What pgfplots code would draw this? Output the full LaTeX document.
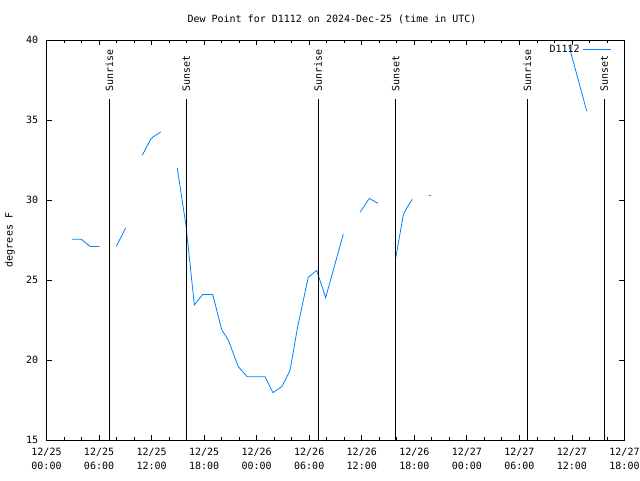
\documentclass[border=0pt]{standalone}
\usepackage{fontspec}
\setmainfont{DejaVu Sans Mono}
\setmonofont{DejaVu Sans Mono}
\usepackage{pgfplots}
\pgfplotsset{compat=1.18}
\definecolor{dp}{RGB}{0,128,255}
\begin{document}
\fontsize{7.5}{10.5}\selectfont
\begin{tikzpicture}[x=1pt,y=1pt]
\useasboundingbox (0,0) rectangle (480,360);
\begin{axis}[
  at={(34.875pt,30pt)}, anchor=south west,
  scale only axis, width=433.5pt, height=300pt,
  xmin=0, xmax=66, ymin=15, ymax=40,
  xtick={0,6,...,66}, minor x tick num=2,
  xticklabels={{12/25\\00:00},{12/25\\06:00},{12/25\\12:00},{12/25\\18:00},
               {12/26\\00:00},{12/26\\06:00},{12/26\\12:00},{12/26\\18:00},
               {12/27\\00:00},{12/27\\06:00},{12/27\\12:00},{12/27\\18:00}},
  xticklabel style={align=center, inner sep=0pt, yshift=-5.5pt, font=\fontsize{7.5}{10.5}\selectfont},
  ytick={15,20,25,30,35,40},
  yticklabels={15,20,25,30,35,40},
  yticklabel style={anchor=east, inner sep=0pt, xshift=-6pt, font=\fontsize{7.5}{10.5}\selectfont},
  major tick length=3.75pt, minor tick length=2.25pt,
  tick style={black, line width=0.6pt},
  axis line style={black, line width=0.6pt},
  title={Dew Point for D1112 on 2024-Dec-25 (time in UTC)},
  title style={at={(0.5,1)}, anchor=center, yshift=9.75pt, xshift=-2.6pt, inner sep=0pt, font=\fontsize{7.5}{10.5}\selectfont},
  ylabel={degrees F},
  ylabel style={at={(0,0.5)}, anchor=center, yshift=27.4pt, inner sep=0pt, font=\fontsize{7.5}{10.5}\selectfont},
  legend style={at={(0.9785,0.995)}, anchor=north east, draw=none, fill=none, inner sep=0pt, font=\fontsize{7.5}{10.5}\selectfont},
  legend plot pos=right,
  legend image code/.code={\draw[#1] (4pt,0pt) -- (25.5pt,0pt);},
]
% main series segments
\addplot[dp, line width=0.6pt] coordinates {(2.91,27.55) (3.97,27.55) (4.97,27.1) (6.03,27.1)};
\addlegendentry{D1112}
\addplot[dp, line width=0.6pt, forget plot] coordinates {(7.97,27.1) (9.04,28.25)};
\addplot[dp, line width=0.6pt, forget plot] coordinates {(10.94,32.8) (11.9,33.8) (12.19,33.95) (13.04,34.25)};
\addplot[dp, line width=0.6pt, forget plot] coordinates {
 (14.93,32.0) (15.93,28.4) (16.88,23.44) (17.84,24.1) (18.98,24.1) (20.0,21.9)
 (20.76,21.25) (21.9,19.58) (22.93,18.95) (24.95,18.95) (25.86,17.96) (26.86,18.33)
 (27.8,19.33) (28.68,22.08) (29.89,25.17) (30.85,25.6) (31.88,23.9) (33.89,27.86)};
\addplot[dp, line width=0.6pt, forget plot] coordinates {(35.8,29.23) (36.86,30.1) (37.82,29.8)};
\addplot[dp, line width=0.6pt, forget plot] coordinates {(39.87,26.35) (40.74,29.06) (41.13,29.5) (41.77,30.04)};
\addplot[dp, line width=0.6pt, forget plot] coordinates {(43.72,30.3) (43.86,30.3)};
\addplot[dp, line width=0.6pt, forget plot] coordinates {(59.66,39.64) (61.68,35.56)};
% sunrise / sunset markers
\addplot[black, line width=0.8pt, forget plot] coordinates {(7.17,15) (7.17,36.3)};
\addplot[black, line width=0.8pt, forget plot] coordinates {(15.96,15) (15.96,36.3)};
\addplot[black, line width=0.8pt, forget plot] coordinates {(31.03,15) (31.03,36.3)};
\addplot[black, line width=0.8pt, forget plot] coordinates {(39.87,15) (39.87,36.3)};
\addplot[black, line width=0.8pt, forget plot] coordinates {(54.90,15) (54.90,36.3)};
\addplot[black, line width=0.8pt, forget plot] coordinates {(63.69,15) (63.69,36.3)};
\node[rotate=90, anchor=west, inner sep=0pt] at (axis cs:7.17,36.75) {Sunrise};
\node[rotate=90, anchor=west, inner sep=0pt] at (axis cs:15.96,36.75) {Sunset};
\node[rotate=90, anchor=west, inner sep=0pt] at (axis cs:31.03,36.75) {Sunrise};
\node[rotate=90, anchor=west, inner sep=0pt] at (axis cs:39.87,36.75) {Sunset};
\node[rotate=90, anchor=west, inner sep=0pt] at (axis cs:54.90,36.75) {Sunrise};
\node[rotate=90, anchor=west, inner sep=0pt] at (axis cs:63.69,36.75) {Sunset};
\end{axis}
\end{tikzpicture}
\end{document}
